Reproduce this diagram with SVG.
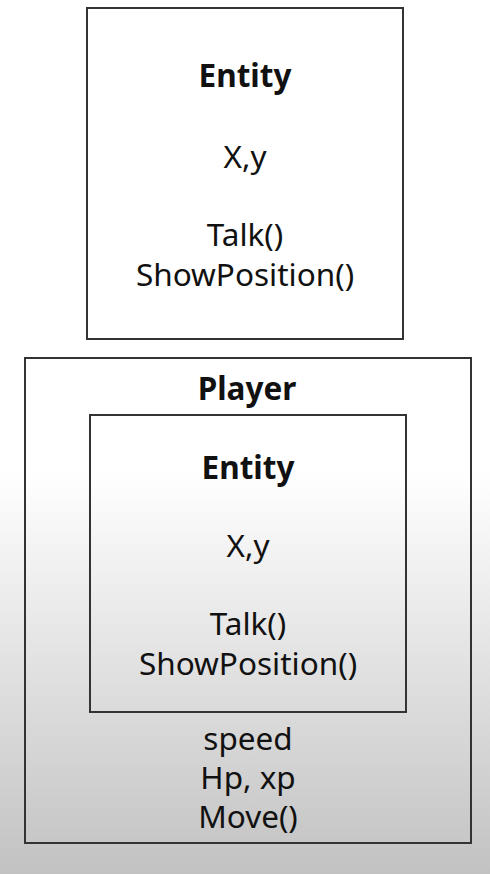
<svg xmlns="http://www.w3.org/2000/svg" width="490" height="874" viewBox="0 0 490 874">
<defs>
<linearGradient id="bg" x1="0" y1="0" x2="0" y2="874" gradientUnits="userSpaceOnUse">
<stop offset="0" stop-color="#ffffff"/>
<stop offset="0.54" stop-color="#ffffff"/>
<stop offset="1" stop-color="#c2c2c2"/>
</linearGradient>
</defs>
<style>
.box{fill:none;stroke:#333333;stroke-width:2}
text{font-family:"Noto Sans","Open Sans","DejaVu Sans",sans-serif;font-size:31.5px;fill:#111111;text-anchor:middle}
.b{font-weight:bold}
</style>
<rect x="0" y="0" width="490" height="874" fill="url(#bg)"/>
<g id="entity-top">
<rect class="box" x="87" y="8" width="316" height="331"/>
<text class="b" x="245" y="87">Entity</text>
<text x="245" y="168">X,y</text>
<text x="245" y="246">Talk()</text>
<text x="245" y="286">ShowPosition()</text>
</g>
<g id="player">
<rect class="box" x="25" y="358" width="446" height="485"/>
<text class="b" x="247" y="400">Player</text>
<text x="248" y="750">speed</text>
<text x="248" y="789">Hp, xp</text>
<text x="248" y="828">Move()</text>
</g>
<g id="entity-inner">
<rect class="box" x="90" y="415" width="316" height="297"/>
<text class="b" x="248" y="479">Entity</text>
<text x="248" y="557">X,y</text>
<text x="248" y="635">Talk()</text>
<text x="248" y="675">ShowPosition()</text>
</g>
<g id="connectors"/>
</svg>
